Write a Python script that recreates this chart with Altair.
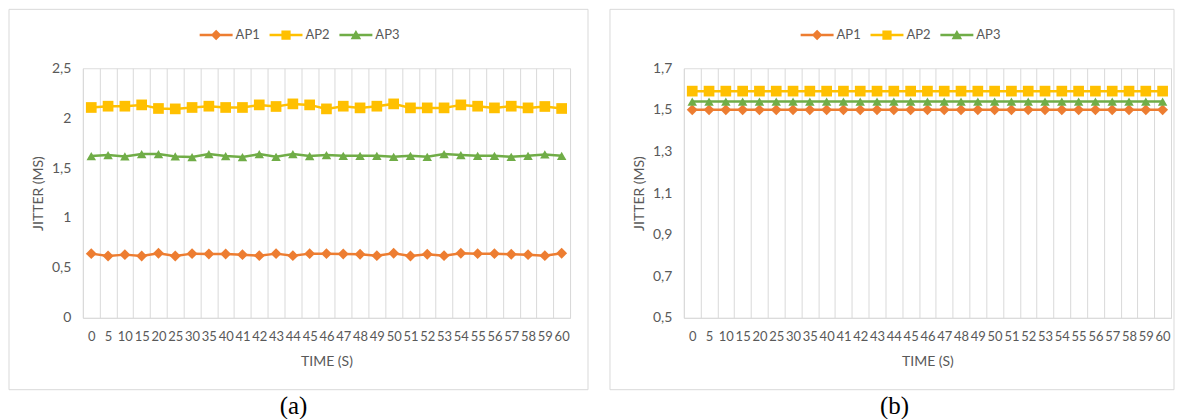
import altair as alt
import pandas as pd

times = ['0', '5', '10', '15', '20', '25', '30', '35', '40', '41', '42', '43', '44', '45', '46',
         '47', '48', '49', '50', '51', '52', '53', '54', '55', '56', '57', '58', '59', '60']
series = ['AP1', 'AP2', 'AP3']
colors = ['#ED7D31', '#FFC000', '#70AD47']

a_ap1 = [0.643, 0.620, 0.633, 0.620, 0.647, 0.620, 0.643, 0.640, 0.640, 0.633, 0.623, 0.643, 0.623, 0.643, 0.643,
         0.640, 0.637, 0.623, 0.647, 0.620, 0.637, 0.623, 0.647, 0.643, 0.643, 0.637, 0.633, 0.623, 0.647]
a_ap2 = [2.107, 2.120, 2.120, 2.133, 2.097, 2.093, 2.107, 2.120, 2.107, 2.107, 2.133, 2.117, 2.143, 2.133, 2.093,
         2.120, 2.103, 2.120, 2.143, 2.103, 2.103, 2.103, 2.133, 2.120, 2.103, 2.120, 2.103, 2.117, 2.097]
a_ap3 = [1.620, 1.630, 1.617, 1.640, 1.640, 1.617, 1.610, 1.640, 1.620, 1.610, 1.640, 1.613, 1.640, 1.620, 1.630,
         1.623, 1.623, 1.623, 1.613, 1.623, 1.613, 1.640, 1.630, 1.623, 1.623, 1.613, 1.623, 1.637, 1.623]

b_ap1 = [1.50, 1.50, 1.50, 1.50, 1.50, 1.50, 1.50, 1.50, 1.50, 1.50, 1.50, 1.50, 1.50, 1.50, 1.50,
         1.50, 1.50, 1.50, 1.50, 1.50, 1.50, 1.50, 1.50, 1.50, 1.50, 1.50, 1.50, 1.50, 1.50]
b_ap2 = [1.59, 1.59, 1.59, 1.59, 1.59, 1.59, 1.59, 1.59, 1.59, 1.59, 1.59, 1.59, 1.59, 1.59, 1.59,
         1.59, 1.59, 1.59, 1.59, 1.59, 1.59, 1.59, 1.59, 1.59, 1.59, 1.59, 1.59, 1.59, 1.59]
b_ap3 = [1.54, 1.54, 1.54, 1.54, 1.54, 1.54, 1.54, 1.54, 1.54, 1.54, 1.54, 1.54, 1.54, 1.54, 1.54,
         1.54, 1.54, 1.54, 1.54, 1.54, 1.54, 1.54, 1.54, 1.54, 1.54, 1.54, 1.54, 1.54, 1.54]

a_yticks = [0, 0.5, 1, 1.5, 2, 2.5]
b_yticks = [0.5, 0.7, 0.9, 1.1, 1.3, 1.5, 1.7]

GRAY = '#595959'
GRID = '#D9D9D9'

# legend symbols: a short line with the series marker on it
legend_paths = [
    'M-1,-0.075H1V0.075H-1Z M0,-0.32L0.32,0L0,0.32L-0.32,0Z',
    'M-1,-0.075H1V0.075H-1Z M-0.28,-0.28H0.28V0.28H-0.28Z',
    'M-1,-0.075H1V0.075H-1Z M0,-0.3L0.32,0.25L-0.32,0.25Z',
]
marker_shapes = ['diamond', 'square', 'triangle-up']
marker_sizes = [120, 115, 90]


def long_df(v1, v2, v3):
    rows = []
    for s, vals in zip(series, [v1, v2, v3]):
        for t, v in zip(times, vals):
            rows.append({'time': t, 'series': s, 'value': v})
    return pd.DataFrame(rows)


W, H = 488, 250


def panel(df, ydom, yticks, caption, right_extra):
    xenc = alt.X('time:N', sort=times,
                 scale=alt.Scale(type='band', paddingInner=0, paddingOuter=0),
                 bandPosition=0.5,
                 axis=alt.Axis(title='TIME (S)', grid=True, tickBand='extent', ticks=False,
                               domainColor=GRID, gridColor=GRID, gridWidth=1, labelAngle=0,
                               labelOverlap=False, labelPadding=13, labelFontSize=13,
                               labelColor=GRAY, titleColor=GRAY, titleFontSize=14,
                               titleFontWeight='normal', titlePadding=11))
    yenc = alt.Y('value:Q', scale=alt.Scale(domain=ydom, nice=False, zero=False),
                 axis=alt.Axis(values=yticks, labelExpr="replace(toString(datum.value), '.', ',')",
                               grid=False, ticks=False, domain=False, title='JITTER (MS)',
                               labelPadding=12, labelFontSize=14, labelColor=GRAY,
                               titleColor=GRAY, titleFontSize=14, titleFontWeight='normal',
                               titlePadding=6))
    base = alt.Chart(df)
    layers = []
    for s, col, sh, sz in zip(series, colors, marker_shapes, marker_sizes):
        sub = base.transform_filter(alt.datum.series == s)
        layers.append(sub.mark_line(strokeWidth=2.5, color=col).encode(x=xenc, y=yenc))
        layers.append(
            sub.mark_point(shape=sh, filled=True, size=sz, opacity=1, strokeWidth=0, color=col)
            .encode(x=xenc, y=yenc)
        )
    leg = alt.Legend(orient='none', legendX=117, legendY=-50, direction='horizontal', title=None,
                     symbolSize=1089, symbolStrokeWidth=0, symbolOpacity=1, labelOffset=3,
                     columnPadding=9, padding=0, labelFontSize=13, labelColor=GRAY, labelFont='Lato')
    legend_layer = (
        base.transform_filter('false')
        .mark_point(filled=True, opacity=1)
        .encode(x=xenc, y=yenc,
                color=alt.Color('series:N', scale=alt.Scale(domain=series, range=colors), legend=leg),
                shape=alt.Shape('series:N', scale=alt.Scale(domain=series, range=legend_paths), legend=leg))
    )
    layers.append(legend_layer)
    one = alt.Chart(pd.DataFrame({'k': [0]}))
    border = one.mark_rect(fillOpacity=0, stroke=GRID, strokeWidth=1).encode(
        x=alt.value(-74), x2=alt.value(W + right_extra), y=alt.value(-59), y2=alt.value(H + 72))
    cap = one.mark_text(text=caption, font='Liberation Serif', fontSize=25, color='#000000',
                        baseline='middle', align='center').encode(
        x=alt.value(211), y=alt.value(H + 88))
    return alt.layer(border, *layers, cap).properties(width=W, height=H)


pa = panel(long_df(a_ap1, a_ap2, a_ap3), [0, 2.5], a_yticks, '(a)', 18)
pb = panel(long_df(b_ap1, b_ap2, b_ap3), [0.5, 1.7], b_yticks, '(b)', 3)

chart = (
    alt.hconcat(pa, pb, spacing=20)
    .resolve_scale(color='independent', shape='independent', x='independent', y='independent')
    .resolve_legend(color='independent', shape='independent')
    .properties(padding=0)
    .configure_view(stroke=None)
    .configure(font='Lato')
    .configure_axis(labelFont='Lato', titleFont='Lato')
)

chart.save('out.html', embed_options={'renderer': 'svg', 'actions': False})
